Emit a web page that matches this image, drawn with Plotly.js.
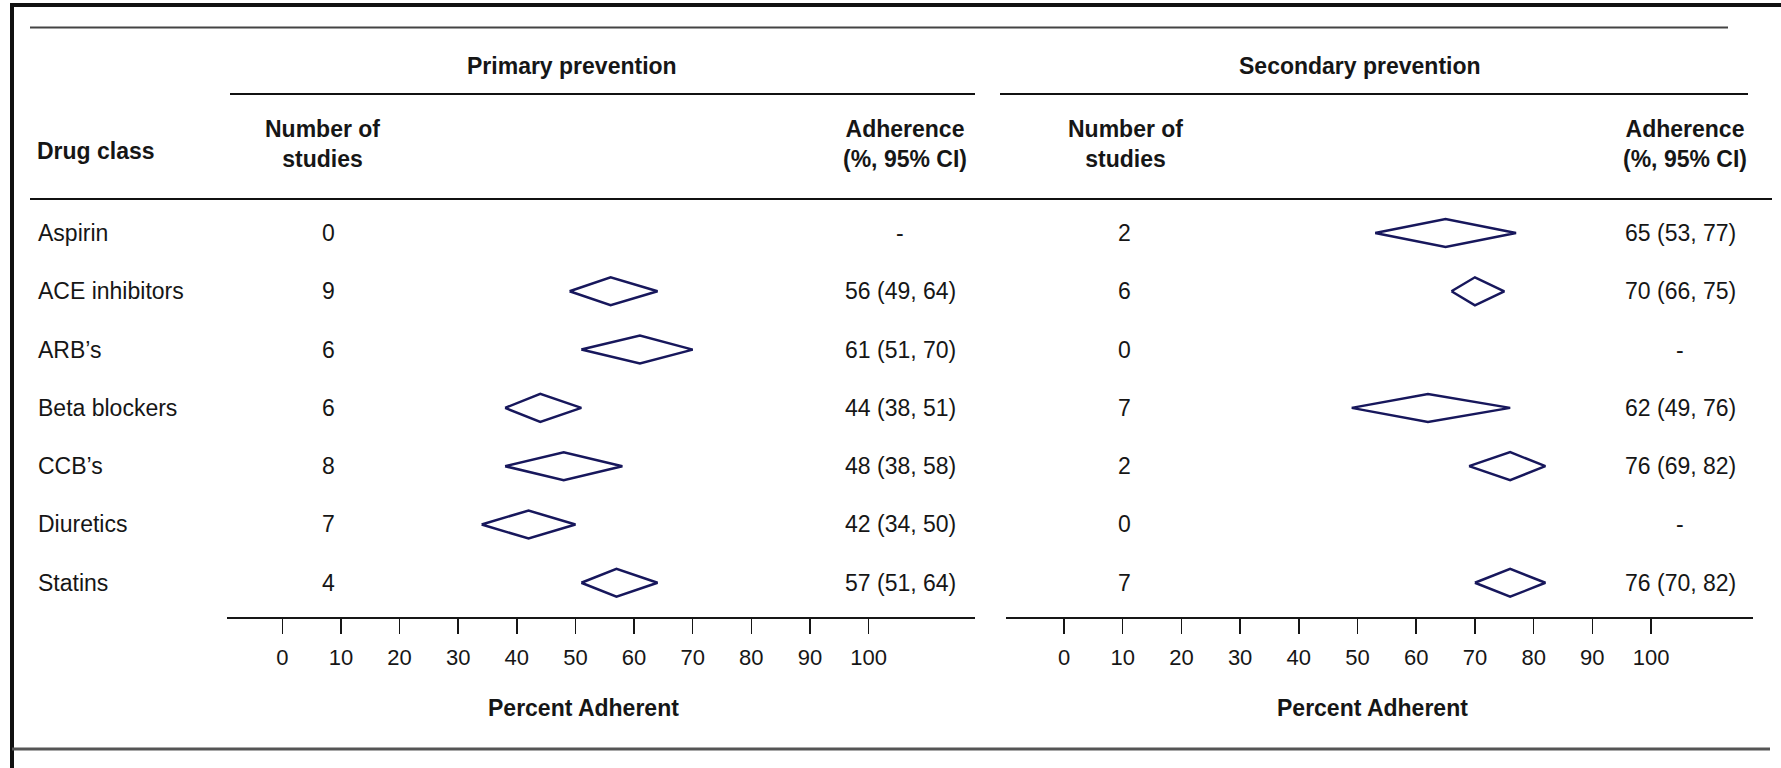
<!DOCTYPE html>
<html>
<head>
<meta charset="utf-8">
<script src="https://cdn.plot.ly/plotly-3.0.1.min.js"></script>
<style>
  html, body { margin: 0; padding: 0; background: #ffffff; }
  #chart { width: 1781px; height: 768px; }
</style>
</head>
<body>
<div id="chart"></div>
<script>
// Pooled medication adherence by drug class, primary vs secondary prevention
const drugClasses = ['Aspirin', 'ACE inhibitors', 'ARB\u2019s', 'Beta blockers', 'CCB\u2019s', 'Diuretics', 'Statins'];

const primaryStudies = [0, 9, 6, 6, 8, 7, 4];
const primaryEst = [null, 56, 61, 44, 48, 42, 57];
const primaryLow = [null, 49, 51, 38, 38, 34, 51];
const primaryHigh = [null, 64, 70, 51, 58, 50, 64];

const secondaryStudies = [2, 6, 0, 7, 2, 0, 7];
const secondaryEst = [65, 70, null, 62, 76, null, 76];
const secondaryLow = [53, 66, null, 49, 69, null, 70];
const secondaryHigh = [77, 75, null, 76, 82, null, 82];

const tickValues = [0, 10, 20, 30, 40, 50, 60, 70, 80, 90, 100];
const tickLabels = ['0', '10', '20', '30', '40', '50', '60', '70', '80', '90', '100'];

// ---- page geometry (pixels) ----
const W = 1781, H = 768;
const px = v => v / W;          // pixel x -> paper x
const py = v => 1 - v / H;      // pixel y -> paper y
const FONT = '"Liberation Sans", Arial, Helvetica, sans-serif';
const INK = '#161616';
const NAVY = '#17175c';
const HALF = 0.24;              // diamond half-height in row units

// Diamond outlines (lo, est, hi) per row, separated by gaps
function diamonds(est, lo, hi) {
  const xs = [], ys = [];
  est.forEach((e, i) => {
    if (e === null) return;
    xs.push(lo[i], e, hi[i], e, lo[i], null);
    ys.push(i, i - HALF, i, i + HALF, i, null);
  });
  return { xs, ys };
}
const dp = diamonds(primaryEst, primaryLow, primaryHigh);
const ds = diamonds(secondaryEst, secondaryLow, secondaryHigh);

const traces = [
  { type: 'scatter', mode: 'lines', x: dp.xs, y: dp.ys, xaxis: 'x', yaxis: 'y',
    line: { color: NAVY, width: 2.5 }, connectgaps: false, hoverinfo: 'skip' },
  { type: 'scatter', mode: 'lines', x: ds.xs, y: ds.ys, xaxis: 'x2', yaxis: 'y',
    line: { color: NAVY, width: 2.5 }, connectgaps: false, hoverinfo: 'skip' }
];

const fmt = (e, lo, hi) => e === null ? '-' : `${e} (${lo}, ${hi})`;

const annotations = [];
function note(text, x, y, opts) {
  annotations.push(Object.assign({
    text: text, x: x, y: y, xref: 'paper', yref: 'paper',
    showarrow: false, xanchor: 'center', yanchor: 'middle',
    font: { family: FONT, size: 23, color: INK }
  }, opts || {}));
}
const bold = t => '<b>' + t + '</b>';

// Header block
note(bold('Primary prevention'), px(572), py(66));
note(bold('Secondary prevention'), px(1360), py(66));
note(bold('Drug class'), px(35), py(151), { xanchor: 'left' });
note(bold('Number of<br>studies'), px(322), py(143.5));
note(bold('Number of<br>studies'), px(1125), py(143.5));
note(bold('Adherence<br>(%, 95% CI)'), px(905), py(143.5));
note(bold('Adherence<br>(%, 95% CI)'), px(1685), py(143.5));

// Row text
drugClasses.forEach((d, i) => {
  note(d, px(36), i, { yref: 'y', xanchor: 'left' });
  note(String(primaryStudies[i]), px(328), i, { yref: 'y' });
  note(String(secondaryStudies[i]), px(1124), i, { yref: 'y' });
  note(fmt(primaryEst[i], primaryLow[i], primaryHigh[i]), px(900), i, { yref: 'y' });
  note(fmt(secondaryEst[i], secondaryLow[i], secondaryHigh[i]), px(1680), i, { yref: 'y' });
});

// Axis titles
note(bold('Percent Adherent'), px(583), py(708));
note(bold('Percent Adherent'), px(1372), py(708));

// Rules and frame
function rule(x0, y0, x1, y1, w, c) {
  return { type: 'line', xref: 'paper', yref: 'paper',
    x0: px(x0), y0: py(y0), x1: px(x1), y1: py(y1),
    line: { color: c, width: w } };
}
const shapes = [
  rule(10, 5, 1781, 5, 4, '#111111'),
  rule(12, 3, 12, 768, 4, '#111111'),
  rule(30, 27.5, 1728, 27.5, 2, '#444444'),
  rule(230, 94, 975, 94, 2, '#111111'),
  rule(1000, 94, 1748, 94, 2, '#111111'),
  rule(30, 199, 1772, 199, 2, '#111111'),
  rule(12, 749, 1770, 749, 3, '#555555')
];

const xBase = {
  anchor: 'y', showline: true, linecolor: INK, linewidth: 2,
  ticks: 'outside', ticklen: 15, tickwidth: 1.5, tickcolor: INK,
  tickmode: 'array', tickvals: tickValues, ticktext: tickLabels,
  tickfont: { family: FONT, size: 22, color: INK },
  ticklabelstandoff: 5,
  showgrid: false, zeroline: false, fixedrange: true
};

const layout = {
  width: W, height: H,
  margin: { l: 0, r: 0, t: 0, b: 0, pad: 0 },
  paper_bgcolor: '#ffffff', plot_bgcolor: 'rgba(0,0,0,0)',
  showlegend: false,
  xaxis: Object.assign({}, xBase, { domain: [px(226.5), px(975)], range: [-9.52, 118.15] }),
  xaxis2: Object.assign({}, xBase, { domain: [px(1005.6), px(1753)], range: [-9.95, 117.37] }),
  yaxis: { domain: [py(617), py(200)], range: [6.587, -0.566], visible: false, fixedrange: true },
  annotations: annotations,
  shapes: shapes
};

Plotly.newPlot('chart', traces, layout, { staticPlot: true, displayModeBar: false });
</script>
</body>
</html>
